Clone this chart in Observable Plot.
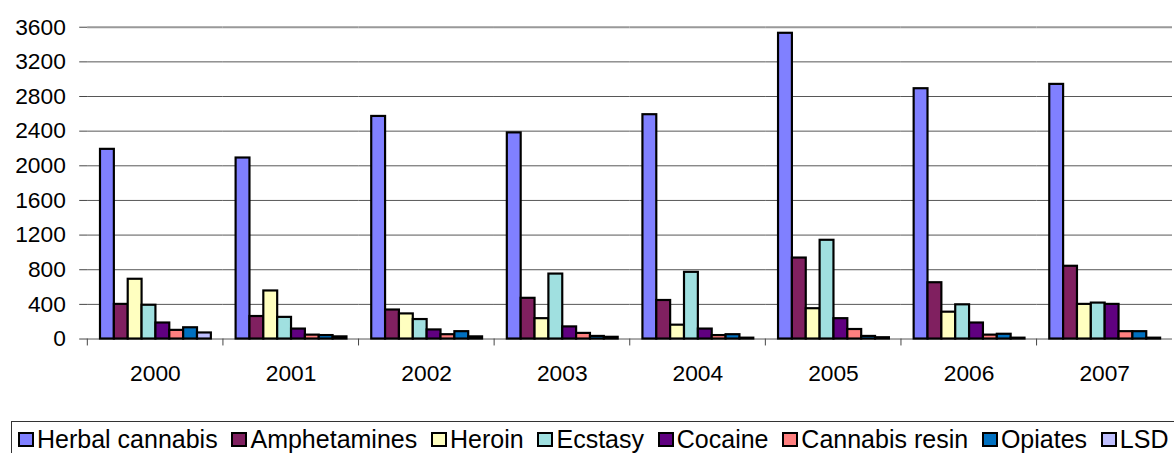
<!DOCTYPE html>
<html><head><meta charset="utf-8">
<script src="https://cdn.jsdelivr.net/npm/d3@7"></script>
<script src="https://cdn.jsdelivr.net/npm/@observablehq/plot@0.6"></script>
<style>
html,body{margin:0;padding:0;overflow:hidden;background:#fff;width:1174px;height:453px;position:relative}
#chart svg{display:block;overflow:visible}
.legend{position:absolute;left:11px;top:421px;width:1250px;height:60px;border:1px solid #333;box-sizing:border-box;display:flex;align-items:flex-start;padding:3px 0 0 6px;font-family:"Liberation Sans",Arial,sans-serif;font-size:25px;line-height:28px;color:#000;white-space:nowrap}
.item{display:flex;align-items:center;margin-right:13.8px}
.sw{width:16px;height:15px;border:2px solid #000;box-sizing:border-box;margin-right:3px;flex:none}
</style>
</head><body>
<div id="chart"></div>
<div class="legend" id="legend"></div>
<script>
const years = ["2000","2001","2002","2003","2004","2005","2006","2007"];
const drugs = ["Herbal cannabis","Amphetamines","Heroin","Ecstasy","Cocaine","Cannabis resin","Opiates","LSD"];
const herbalCannabis = [2190, 2090, 2570, 2380, 2590, 3530, 2890, 2940];
const amphetamines   = [400, 260, 335, 470, 445, 935, 650, 840];
const heroin         = [690, 555, 290, 235, 160, 350, 310, 400];
const ecstasy        = [390, 250, 225, 750, 770, 1140, 395, 415];
const cocaine        = [185, 115, 105, 140, 115, 235, 185, 400];
const cannabisResin  = [100, 45, 50, 65, 40, 110, 45, 85];
const opiates        = [130, 40, 85, 30, 50, 30, 55, 85];
const lsd            = [70, 25, 25, 20, 10, 15, 10, 10];
const colors = ["#8080FF","#802060","#FFFFC0","#A0E0E0","#600080","#FF8080","#0070C0","#C0C0FF"];
const yTicks = [0,400,800,1200,1600,2000,2400,2800,3200,3600];

const series = [herbalCannabis, amphetamines, heroin, ecstasy, cocaine, cannabisResin, opiates, lsd];
const data = years.flatMap((yr, i) => drugs.map((dr, j) => ({year: yr, drug: dr, value: series[j][i]})));

const W = 1186, ML = 85, MR = 0;
const step = (W - ML - MR) / years.length;

const chart = Plot.plot({
  width: W, height: 400, marginLeft: ML, marginRight: MR, marginTop: 27, marginBottom: 58,
  style: {fontFamily: "Liberation Sans, Arial, sans-serif", fontSize: "23px", color: "#000", background: "#fff"},
  fx: {domain: years, padding: 0, label: null},
  x: {domain: drugs, paddingInner: 0, paddingOuter: 0.75, axis: null},
  y: {domain: [0, 3600], label: null},
  color: {domain: drugs, range: colors},
  marks: [
    Plot.gridY(yTicks.slice(0, -1), {stroke: "#555", strokeOpacity: 1}),
    Plot.ruleY([3600], {stroke: "#999", strokeWidth: 2}),
    Plot.ruleX([years[0]], {fx: d => d, dx: -step / 2, stroke: "#444"}),
    Plot.axisY(yTicks, {tickSize: 8, tickPadding: 14, label: null, fontSize: 23, stroke: "#444", tickFormat: d => String(d)}),
    Plot.axisFx({anchor: "bottom", tickSize: 7, tickFormat: () => "", dx: -step / 2, label: null, stroke: "#444"}),
    Plot.axisFx({anchor: "bottom", tickSize: 0, tickPadding: 26, label: null, fontSize: 23}),
    Plot.barY(data, {fx: "year", x: "drug", y: "value", fill: "drug", stroke: "#000", strokeWidth: 2.2})
  ]
});
document.getElementById("chart").appendChild(chart);

const legend = document.getElementById("legend");
drugs.forEach((d, i) => {
  const it = document.createElement("div");
  it.className = "item";
  const sw = document.createElement("span");
  sw.className = "sw";
  sw.style.background = colors[i];
  const t = document.createElement("span");
  t.textContent = d;
  it.appendChild(sw); it.appendChild(t);
  legend.appendChild(it);
});
</script>
</body></html>
